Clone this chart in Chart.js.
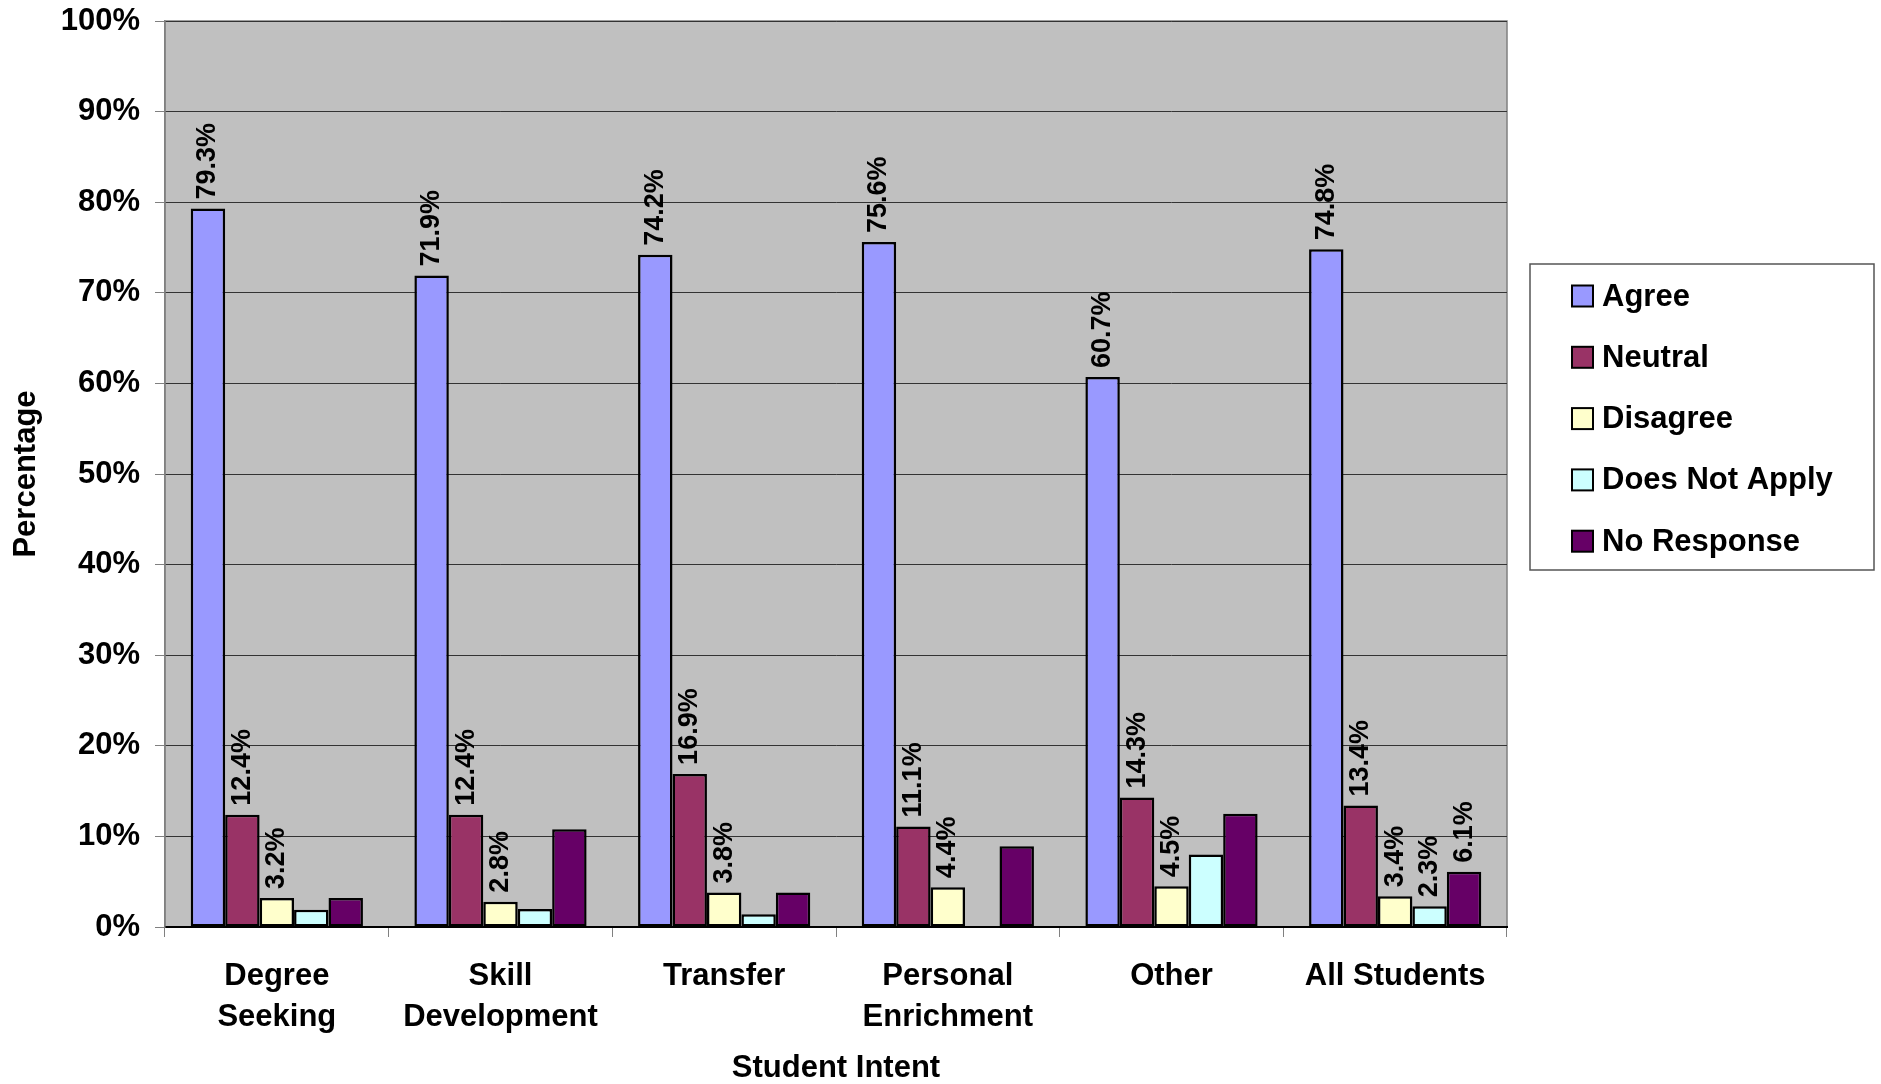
<!DOCTYPE html>
<html>
<head>
<meta charset="utf-8">
<script src="https://cdn.jsdelivr.net/npm/chart.js@4/dist/chart.umd.min.js"></script>
<style>
  body { margin: 0; background: #fff; }
  #wrap { width: 1881px; height: 1084px; }
</style>
</head>
<body>
<div id="wrap"><canvas id="myChart" width="1881" height="1084"></canvas></div>
<script>
'use strict'

const categories = [['Degree', 'Seeking'], ['Skill', 'Development'], 'Transfer', ['Personal', 'Enrichment'], 'Other', 'All Students'];
const seriesNames = ['Agree', 'Neutral', 'Disagree', 'Does Not Apply', 'No Response'];
const agree = [79.3, 71.9, 74.2, 75.6, 60.7, 74.8];
const neutral = [12.4, 12.4, 16.9, 11.1, 14.3, 13.4];
const disagree = [3.2, 2.8, 3.8, 4.4, 4.5, 3.4];
const doesNotApply = [1.9, 2.0, 1.4, null, 8.0, 2.3];
const noResponse = [3.2, 10.8, 3.8, 8.9, 12.5, 6.1];
const yTicks = [0, 10, 20, 30, 40, 50, 60, 70, 80, 90, 100];
// value labels: first three series always, the rest only on the last group
const alwaysLabelled = ['Agree', 'Neutral', 'Disagree'];
const fullyLabelledCategory = 'All Students';

const colors = ['#9999FF', '#993366', '#FFFFCC', '#CCFFFF', '#660066'];
const FONT = '"Liberation Sans", Arial, sans-serif';

const plotBackground = {
  id: 'plotBackground',
  beforeDraw(chart) {
    const {ctx, chartArea: a} = chart;
    ctx.save();
    ctx.fillStyle = '#C0C0C0';
    ctx.fillRect(a.left, a.top, a.right - a.left, a.bottom - a.top);
    ctx.strokeStyle = '#808080';
    ctx.lineWidth = 1.5;
    ctx.strokeRect(a.left, a.top, a.right - a.left, a.bottom - a.top);
    ctx.restore();
  }
};

const valueLabels = {
  id: 'valueLabels',
  afterDatasetsDraw(chart) {
    const ctx = chart.ctx;
    ctx.save();
    ctx.font = 'bold 27px ' + FONT;
    ctx.fillStyle = '#000';
    ctx.textAlign = 'left';
    ctx.textBaseline = 'middle';
    chart.data.datasets.forEach((ds, i) => {
      const meta = chart.getDatasetMeta(i);
      meta.data.forEach((bar, j) => {
        const v = ds.data[j];
        if (v == null) return;
        const cat = chart.data.labels[j];
        if (!alwaysLabelled.includes(ds.label) && cat !== fullyLabelledCategory) return;
        ctx.save();
        ctx.translate(bar.x, bar.y - 9);
        ctx.rotate(-Math.PI / 2);
        ctx.fillText(v.toFixed(1) + '%', 0, 0);
        ctx.restore();
      });
    });
    ctx.restore();
  }
};

const boxLegend = {
  id: 'boxLegend',
  afterDraw(chart) {
    const ctx = chart.ctx;
    const x0 = 1530, y0 = 264, w = 344, h = 306;
    ctx.save();
    ctx.fillStyle = '#fff';
    ctx.fillRect(x0, y0, w, h);
    ctx.strokeStyle = '#555';
    ctx.lineWidth = 1.5;
    ctx.strokeRect(x0, y0, w, h);
    ctx.font = 'bold 31px ' + FONT;
    ctx.textBaseline = 'middle';
    ctx.textAlign = 'left';
    chart.data.datasets.forEach((ds, i) => {
      const cy = y0 + 32 + i * 61.3;
      ctx.fillStyle = ds.backgroundColor;
      ctx.fillRect(1572, cy - 10.5, 21, 21);
      ctx.strokeStyle = '#000';
      ctx.lineWidth = 2;
      ctx.strokeRect(1572, cy - 10.5, 21, 21);
      ctx.fillStyle = '#000';
      ctx.fillText(ds.label, 1602, cy + 1);
    });
    ctx.restore();
  }
};

const seriesValues = [agree, neutral, disagree, doesNotApply, noResponse];

const data = {
  labels: categories,
  datasets: seriesNames.map((name, i) => ({
    label: name,
    data: seriesValues[i],
    backgroundColor: colors[i],
    borderColor: '#000',
    borderWidth: 2.5,
    borderSkipped: false,
    categoryPercentage: 0.77,
    barPercentage: 1.0
  }))
};

new Chart(document.getElementById('myChart'), {
  type: 'bar',
  data: data,
  plugins: [plotBackground, valueLabels, boxLegend],
  options: {
    responsive: false,
    animation: false,
    layout: { padding: { top: 21, right: 374, left: 0, bottom: 0 } },
    plugins: {
      legend: { display: false },
      tooltip: { enabled: false }
    },
    scales: {
      x: {
        afterFit(scale) { scale.height = 157; },
        grid: { display: true, drawOnChartArea: false, drawTicks: true, tickLength: 10, color: '#808080', offset: true },
        border: { color: '#000', width: 2 },
        ticks: { color: '#000', padding: 19, maxRotation: 0, autoSkip: false,
          font: { family: FONT, size: 31, weight: 'bold', lineHeight: 1.32 } },
        title: { display: true, text: 'Student Intent', color: '#000', padding: { top: 0, bottom: 0 },
          font: { family: FONT, size: 31, weight: 'bold', lineHeight: 1.0 } }
      },
      y: {
        min: 0,
        max: 100,
        afterFit(scale) { scale.width = 165; scale.paddingTop = 0; scale.paddingBottom = 0; },
        afterBuildTicks(scale) { scale.ticks = yTicks.map(v => ({ value: v })); },
        grid: { color: '#333', lineWidth: 1, tickLength: 10, tickColor: '#808080' },
        border: { color: '#808080', width: 1.5 },
        ticks: { color: '#000', padding: 15, callback: v => v + '%',
          font: { family: FONT, size: 31, weight: 'bold' } },
        title: { display: true, text: 'Percentage', color: '#000', padding: { top: 8, bottom: 0 },
          font: { family: FONT, size: 31, weight: 'bold', lineHeight: 1.2 } }
      }
    }
  }
});
</script>
</body>
</html>
